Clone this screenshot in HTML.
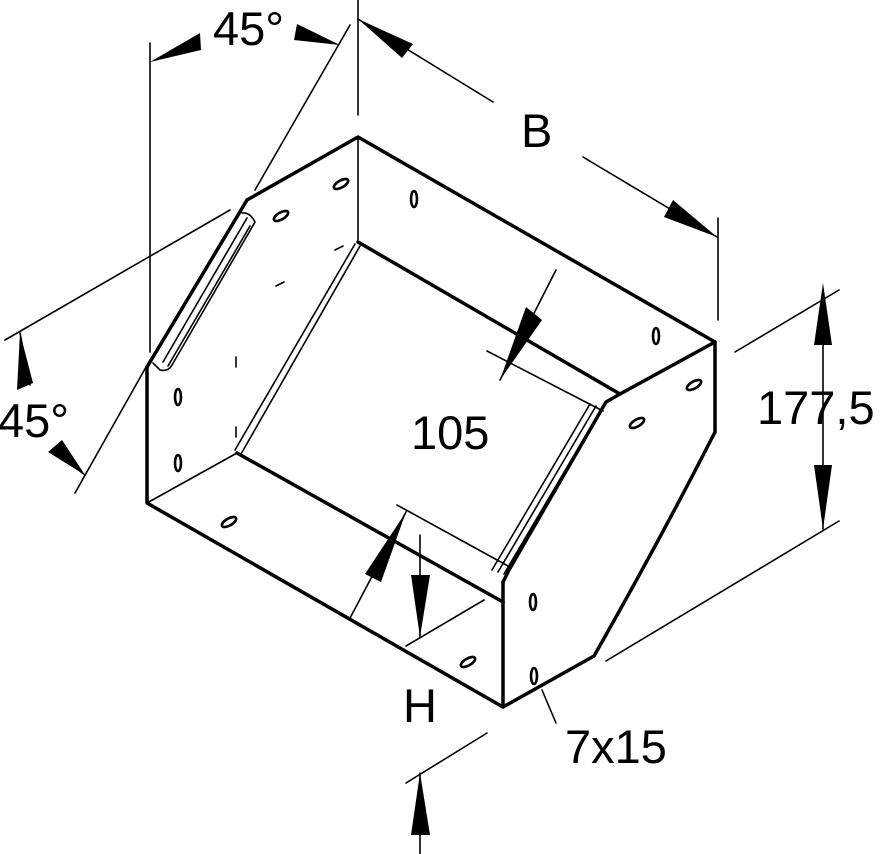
<!DOCTYPE html>
<html><head><style>
html,body{margin:0;padding:0;background:#fff;}
svg{display:block;}
text{font-family:"Liberation Sans",Arial,sans-serif;fill:#000;}
</style></head><body>
<svg width="881" height="854" viewBox="0 0 881 854" xmlns="http://www.w3.org/2000/svg">
<g stroke="#000" fill="none" stroke-linecap="round" stroke-linejoin="round">
<g stroke-width="3.5">
<polyline points="247,200 358,137 715,342 715,432"/>
<path d="M715,432 Q660,540 594,656 L503,707 L147,503 L147,367"/>
<line x1="503" y1="707" x2="503" y2="582"/>
<polyline points="503,582 509,570 606,402 620,394 715,342"/>
<line x1="358" y1="242" x2="620" y2="394"/>
<line x1="237" y1="453" x2="503" y2="602"/>
<line x1="147" y1="367" x2="247" y2="200"/>
</g>
<g stroke-width="1.6">
<line x1="358" y1="137" x2="358" y2="242"/>
<line x1="147" y1="503" x2="237" y2="453"/>
<line x1="355" y1="244" x2="235" y2="450"/>
<line x1="360" y1="246" x2="241" y2="454"/>
<line x1="596" y1="406" x2="498" y2="572"/>
<line x1="602" y1="408" x2="504" y2="574"/>
<line x1="590" y1="404" x2="492" y2="570"/>
<path d="M242,213 Q250,212 255,222 L172,365 Q168,372 160,370 L153,363"/>
<line x1="247" y1="218" x2="163" y2="362"/>
<line x1="250" y1="226" x2="168" y2="366"/>
<line x1="335" y1="250" x2="343" y2="246"/>
<line x1="276" y1="286" x2="284" y2="282"/>
<line x1="236" y1="357" x2="236" y2="367"/>
<line x1="236" y1="427" x2="236" y2="437"/>
</g>
<g stroke-width="2.6">
<ellipse cx="341" cy="184" rx="8" ry="3.5" transform="rotate(-30 341 184)"/>
<ellipse cx="281" cy="216" rx="8" ry="3.5" transform="rotate(-30 281 216)"/>
<ellipse cx="414" cy="199" rx="3" ry="8"/>
<ellipse cx="656" cy="336" rx="3" ry="8"/>
<ellipse cx="694" cy="385" rx="8" ry="3.5" transform="rotate(-30 694 385)"/>
<ellipse cx="637" cy="423" rx="8" ry="3.5" transform="rotate(-30 637 423)"/>
<ellipse cx="178" cy="397" rx="3" ry="8"/>
<ellipse cx="178" cy="463" rx="3" ry="8"/>
<ellipse cx="229" cy="522" rx="8" ry="3.5" transform="rotate(-30 229 522)"/>
<ellipse cx="468" cy="662" rx="8" ry="3.5" transform="rotate(-30 468 662)"/>
<ellipse cx="533" cy="602" rx="3" ry="8"/>
<ellipse cx="534" cy="676" rx="3" ry="8"/>
</g>
<g stroke-width="1.6">
<line x1="150" y1="43" x2="150" y2="352"/>
<line x1="358" y1="0" x2="358" y2="115"/>
<line x1="350" y1="25" x2="255" y2="190"/>
<line x1="150" y1="360" x2="75" y2="493"/>
<line x1="5" y1="340" x2="230" y2="210"/>
<line x1="358" y1="19" x2="493" y2="102"/>
<line x1="583" y1="157" x2="717" y2="237"/>
<line x1="718" y1="218" x2="718" y2="320"/>
<line x1="735" y1="352" x2="839" y2="290"/>
<line x1="606" y1="661" x2="839" y2="521"/>
<line x1="823" y1="298" x2="823" y2="529"/>
<line x1="556" y1="270" x2="500" y2="380"/>
<line x1="487" y1="351" x2="603" y2="411"/>
<line x1="406" y1="512" x2="349" y2="620"/>
<line x1="397" y1="505" x2="508" y2="566"/>
<line x1="420" y1="535" x2="420" y2="637"/>
<line x1="406" y1="646" x2="484" y2="600"/>
<line x1="406" y1="783" x2="487" y2="733"/>
<line x1="420" y1="773" x2="420" y2="854"/>
<line x1="542" y1="690" x2="556" y2="723"/>
<line x1="20" y1="333" x2="30" y2="385"/>
<line x1="85" y1="475" x2="55" y2="452"/>
</g>
</g>
<g fill="#000">
<polygon points="150,62 200,33 201,50"/>
<polygon points="340,45 297,24 294,40"/>
<polygon points="358,19 413,44 402,58"/>
<polygon points="717,237 673,200 664,217"/>
<polygon points="823,283 814,345 832,345"/>
<polygon points="823,529 814,465 832,465"/>
<polygon points="500,380 542,320 526,307"/>
<polygon points="406,512 365,574 381,582"/>
<polygon points="420,637 411,575 430,575"/>
<polygon points="420,773 411,835 430,835"/>
<polygon points="20,333 17,390 33,383"/>
<polygon points="85,475 48,452 62,440"/>
</g>
<g font-size="47">
<text x="213" y="45">45°</text>
<text x="-2" y="437">45°</text>
<text x="521" y="147">B</text>
<text x="757" y="424">177,5</text>
<text x="411" y="449">105</text>
<text x="403" y="722">H</text>
<text x="565" y="763">7x15</text>
</g>
</svg>
</body></html>
